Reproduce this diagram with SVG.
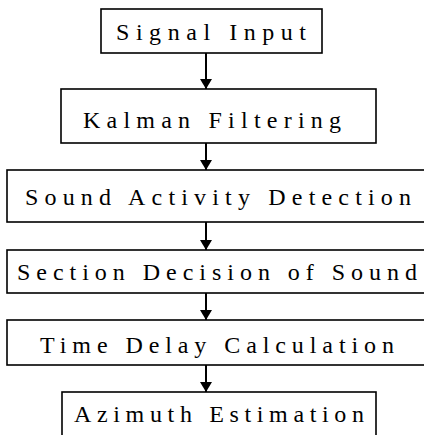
<svg xmlns="http://www.w3.org/2000/svg" width="424" height="435" viewBox="0 0 424 435">
<style>
.box{fill:#fff;stroke:#000;stroke-width:1.6}
.lbl{font-family:"Liberation Serif",serif;font-size:24px;fill:#000}
.edge{stroke:#000;stroke-width:2;fill:none}
</style>
<defs>
<marker id="ah" markerUnits="userSpaceOnUse" markerWidth="10" markerHeight="12" refX="10" refY="6" orient="auto">
<path d="M0,0 L10,6 L0,12 Z" fill="#000"/>
</marker>
</defs>
<rect width="424" height="435" fill="#fff"/>
<g id="edges">
<line class="edge" x1="206" y1="53" x2="206" y2="89" marker-end="url(#ah)"/>
<line class="edge" x1="206" y1="143" x2="206" y2="170" marker-end="url(#ah)"/>
<line class="edge" x1="206" y1="222" x2="206" y2="250" marker-end="url(#ah)"/>
<line class="edge" x1="206" y1="293" x2="206" y2="320" marker-end="url(#ah)"/>
<line class="edge" x1="206" y1="365" x2="206" y2="392" marker-end="url(#ah)"/>
</g>
<g id="n1"><rect class="box" x="101" y="9" width="221" height="44"/><text class="lbl" x="116" y="40" textLength="190" lengthAdjust="spacing">Signal Input</text></g>
<g id="n2"><rect class="box" x="61" y="89" width="315" height="54"/><text class="lbl" x="83" y="128" textLength="258" lengthAdjust="spacing">Kalman Filtering</text></g>
<g id="n3"><rect class="box" x="7" y="170" width="420" height="52"/><text class="lbl" x="25" y="205" textLength="386" lengthAdjust="spacing">Sound Activity Detection</text></g>
<g id="n4"><rect class="box" x="7" y="250" width="420" height="43"/><text class="lbl" x="17" y="280" textLength="400" lengthAdjust="spacing">Section Decision of Sound</text></g>
<g id="n5"><rect class="box" x="7" y="320" width="420" height="45"/><text class="lbl" x="40" y="353" textLength="354" lengthAdjust="spacing">Time Delay Calculation</text></g>
<g id="n6"><rect class="box" x="62" y="392" width="314" height="46"/><text class="lbl" x="74" y="422" textLength="290" lengthAdjust="spacing">Azimuth Estimation</text></g>
</svg>
